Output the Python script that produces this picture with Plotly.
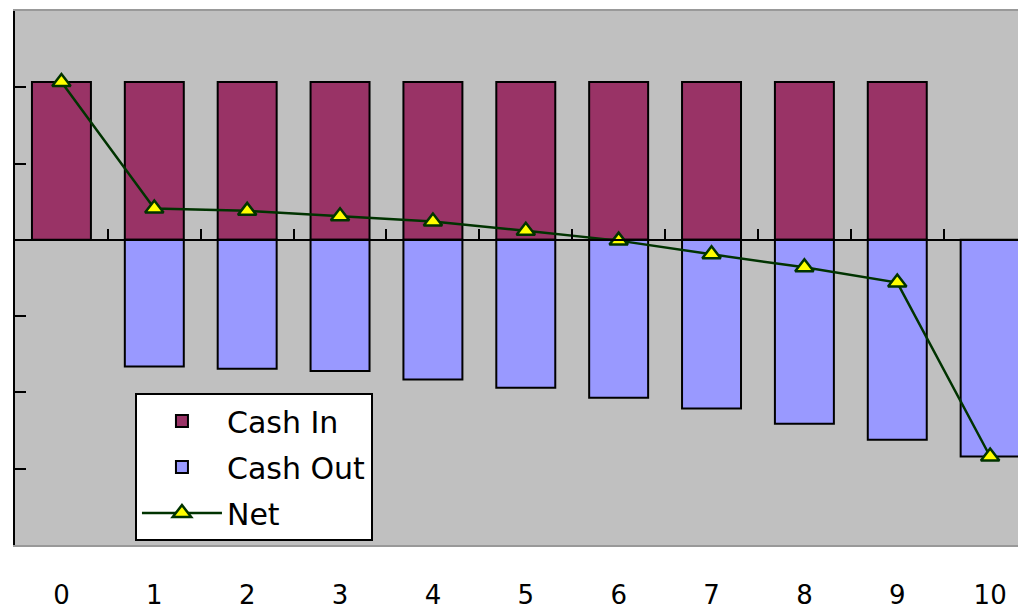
import plotly.graph_objects as go

periods = ["0", "1", "2", "3", "4", "5", "6", "7", "8", "9", "10"]
cash_in = [207, 207, 207, 207, 207, 207, 207, 207, 207, 207, None]
cash_out = [None, -166, -169, -172, -183, -194, -207, -221, -241, -262, -284]
net = [207, 41, 38, 31, 24, 12, -1, -19, -36, -56, -284]

y_min, y_max, y_step = -400, 300, 100
x_idx = list(range(len(periods)))
boundaries = [i + 0.5 for i in x_idx]

FONT = "DejaVu Sans"

fig = go.Figure()
fig.add_trace(go.Bar(
    x=x_idx, y=cash_in, name="Cash In", legendgroup="a",
    marker=dict(color="#993366", line=dict(color="black", width=2)),
))
fig.add_trace(go.Bar(
    x=x_idx, y=cash_out, name="Cash Out", legendgroup="b",
    marker=dict(color="#9999FF", line=dict(color="black", width=2)),
))
fig.add_trace(go.Scatter(
    x=x_idx, y=net, name="Net", mode="lines+markers", legendgroup="c",
    line=dict(color="#003300", width=2.5),
    marker=dict(symbol="triangle-up", size=16, color="#FFFF00",
                line=dict(color="#003300", width=2.5)),
))

x_range = [-0.5, 10.3]
zero_pos = (0 - y_min) / (y_max - y_min)

fig.update_layout(
    width=1018, height=609,
    margin=dict(l=15, r=0, t=11, b=64, autoexpand=False),
    paper_bgcolor="white",
    plot_bgcolor="#C0C0C0",
    barmode="relative",
    bargap=0.365,
    font=dict(family=FONT, size=26, color="black"),
    showlegend=True,
    legend=dict(
        x=0.1196, y=0.2846, xanchor="left", yanchor="top",
        bgcolor="white", bordercolor="black", borderwidth=2,
        font=dict(family=FONT, size=30),
        tracegroupgap=4, itemwidth=80,
    ),
    xaxis=dict(
        range=x_range, automargin=False,
        tickmode="array", tickvals=x_idx, ticktext=periods,
        ticks="", showgrid=False, zeroline=False,
        showline=True, linecolor="#999999", linewidth=2, mirror=True,
        ticklabelstandoff=26,
        tickfont=dict(family=FONT, size=26),
    ),
    xaxis2=dict(
        overlaying="x", matches="x", anchor="free", position=zero_pos,
        side="top", automargin=False,
        tickmode="array", tickvals=boundaries,
        ticks="outside", ticklen=10, tickwidth=2, tickcolor="black",
        showticklabels=False, showgrid=False, zeroline=False,
        showline=True, linecolor="black", linewidth=2,
    ),
    yaxis=dict(
        range=[y_min, y_max], dtick=y_step, tick0=0, automargin=False,
        ticks="inside", ticklen=11, tickwidth=2, tickcolor="black",
        showticklabels=False, showgrid=False, zeroline=False,
        showline=True, linecolor="black", linewidth=2,
    ),
)

# invisible trace to activate xaxis2
fig.add_trace(go.Scatter(x=[0], y=[None], xaxis="x2", showlegend=False,
                         hoverinfo="skip"))

fig.write_html(
    "out.html",
    config={"displayModeBar": False},
    post_script="document.body.style.margin='0';document.body.style.overflow='hidden';",
)
